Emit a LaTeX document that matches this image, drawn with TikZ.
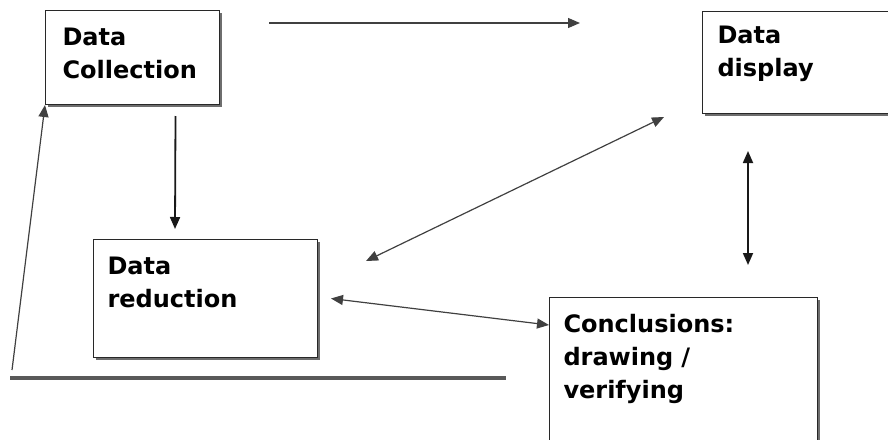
\documentclass[tikz,border=0pt]{standalone}
\usepackage{fontspec}
\setmainfont{DejaVu Sans}
\usepackage{tikz}
\usetikzlibrary{shapes,arrows,arrows.meta,positioning,calc,shadows}
\usepackage{xcolor}
\definecolor{boxline}{RGB}{40,40,40}
\definecolor{shadowgray}{RGB}{110,110,110}

\tikzset{
  stage/.style={draw=boxline,line width=1pt,fill=white,anchor=north west,align=left,
    inner ysep=0pt,font=\bfseries\fontsize{24}{33}\selectfont,
    drop shadow={shadow xshift=2pt,shadow yshift=-2pt,fill=shadowgray,opacity=1}},
  link/.style={black!90,line width=1.8pt},
  thinlink/.style={black!75,line width=1.2pt},
  >={Triangle[length=12pt 0,width=10pt 0]}
}

\begin{document}
\begin{tikzpicture}[x=1pt,y=-1pt]
        \useasboundingbox (0,0) rectangle (888,439);

        \node[stage,text width=140pt,inner xsep=17pt,text height=35pt,text depth=59pt] (coll) at (45,10) {Data\\Collection};
        \node[stage,text width=173pt,inner xsep=15pt,text height=32pt,text depth=70pt] (disp) at (702,11) {Data\\display};
        \node[stage,text width=196pt,inner xsep=14pt,text height=35pt,text depth=83pt] (red) at (93,239) {Data\\reduction};
        \node[stage,text width=240pt,inner xsep=14pt,text height=35pt,text depth=130pt] (concl) at (549,297) {Conclusions:\\drawing /\\verifying};

        \coordinate (fb) at (12,370);
        \coordinate (base0) at (10,378);
        \coordinate (base1) at (506,378);

        \draw[thinlink,->] ($(coll.north east)+(49,13)$) -- ($(disp.north west)+(-122,12)$);
        \draw[link,->] ($(coll.south)+(43,11)$) -- ($(red.north west)+(82,-10)$);
        \draw[thinlink,->] (fb) -- (coll.south west);
        \draw[black!65,line width=3.5pt] (base0) -- (base1);
        \draw[thinlink,<->] ($(red.north east)+(48,22)$) -- ($(disp.south west)+(-38,3)$);
        \draw[link,<->] ($(disp.south west)+(46,37)$) -- ($(concl.north west)+(199,-32)$);
        \draw[thinlink,<->] ($(red.east)+(13,0)$) -- ($(concl.north west)+(0,28)$);
    \end{tikzpicture}
\end{document}
